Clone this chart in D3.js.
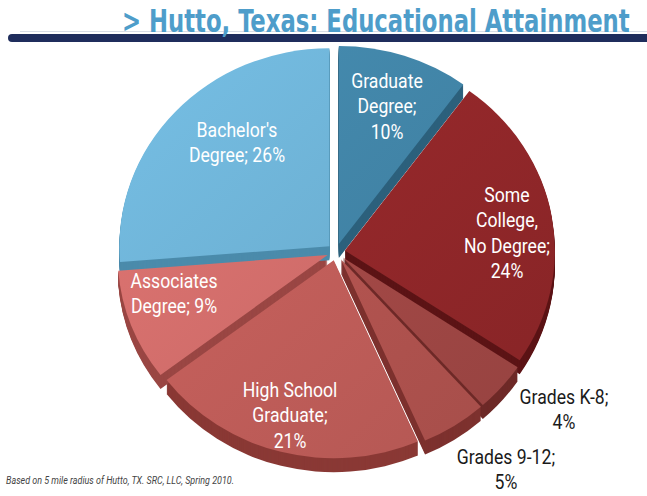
<!DOCTYPE html>
<html>
<head>
<meta charset="utf-8">
<script src="https://cdn.jsdelivr.net/npm/d3@7"></script>
<style>
  body { margin: 0; background: #fff; }
  svg { display: block; }
  .lbl { font-family: "Roboto", "Liberation Sans", sans-serif; }
  .ttl { font-family: "Liberation Sans Narrow", "DejaVu Sans Condensed", "Roboto", sans-serif; }
</style>
</head>
<body>
<svg id="chart" width="647" height="496"></svg>
<script>
// Hutto, Texas educational attainment (percent)
const categories = ["Graduate Degree", "Some College, No Degree", "Grades K-8", "Grades 9-12",
  "High School Graduate", "Associates Degree", "Bachelor's Degree"];
const values = [10, 24, 4, 5, 21, 9, 26];
const labelLines = [
  ["Graduate", "Degree;", "10%"],
  ["Some", "College,", "No Degree;", "24%"],
  ["Grades K-8;", "4%"],
  ["Grades 9-12;", "5%"],
  ["High School", "Graduate;", "21%"],
  ["Associates", "Degree; 9%"],
  ["Bachelor's", "Degree; 26%"]
];

const faceColors = ["#3f80a1", "#8d2628", "#9d4643", "#ad514d", "#bb5b57", "#cb6a67", "#6aacce"];
const sideColors = ["#2c607c", "#5c1416", "#6e2a28", "#7d312e", "#8a3935", "#9a4744", "#4b8bab"];

const svg = d3.select('#chart');
const defs = svg.append('defs');

// header bar + title
svg.append('line').attr('x1', 20).attr('x2', 647).attr('y1', 31.5).attr('y2', 31.5)
  .attr('stroke', '#d8dde6').attr('stroke-width', 1);
svg.append('line').attr('x1', 12).attr('x2', 660).attr('y1', 38).attr('y2', 38)
  .attr('stroke', '#1f2d5c').attr('stroke-width', 8).attr('stroke-linecap', 'round');
const title = svg.append('text').attr('class', 'ttl')
  .attr('font-size', 32).attr('font-weight', 'bold').attr('fill', '#4e9dca')
  .text('> Hutto, Texas: Educational Attainment');
// squeeze the title horizontally to its width in the original
const titleW = title.node().getComputedTextLength();
title.attr('transform', `translate(122,32) scale(${508 / titleW},1)`);

// pie geometry
const cx = 336, cy = 252, rx = 210, ry = 198, depth = 14, explode = 9;
const pie = d3.pie().sort(null).value(d => d);
const arcs = pie(values);
const arc = d3.arc().innerRadius(0).outerRadius(rx);

function offset(d) {
  const a = (d.startAngle + d.endAngle) / 2;
  return [Math.sin(a) * explode, -Math.cos(a) * explode];
}

// soft shading on faces
faceColors.forEach((c, i) => {
  const g = defs.append('linearGradient').attr('id', 'grad' + i)
    .attr('gradientUnits', 'userSpaceOnUse')
    .attr('x1', -rx).attr('y1', -rx).attr('x2', rx).attr('y2', rx);
  g.append('stop').attr('offset', '0%').attr('stop-color', d3.color(c).brighter(0.3));
  g.append('stop').attr('offset', '100%').attr('stop-color', d3.color(c).darker(0.15));
});

const pieG = svg.append('g').attr('transform', `translate(${cx},${cy}) scale(1,${ry / rx})`);

// extruded sides
const sideG = pieG.append('g');
arcs.forEach((d, i) => {
  const [ox, oy] = offset(d);
  for (let k = depth; k > 0; k -= 1) {
    sideG.append('path')
      .attr('d', arc(d))
      .attr('transform', `translate(${ox},${oy + k * rx / ry})`)
      .attr('fill', sideColors[i]);
  }
});

// top faces
pieG.append('g').selectAll('path').data(arcs).join('path')
  .attr('d', arc)
  .attr('transform', d => { const [ox, oy] = offset(d); return `translate(${ox},${oy})`; })
  .attr('fill', (d, i) => `url(#grad${i})`);

// labels (condensed look via horizontal scale)
const labelPos = [
  [387, 88], [507, 202], [564, 404], [506, 464], [290, 397], [174, 288], [237, 137]
];
const labelFill = ['#fff', '#fff', '#1a1a1a', '#1a1a1a', '#fff', '#fff', '#fff'];
labelLines.forEach((lines, i) => {
  const t = svg.append('text').attr('class', 'lbl')
    .attr('transform', `translate(${labelPos[i][0]},${labelPos[i][1]}) scale(0.84,1)`)
    .attr('font-size', 21).attr('text-anchor', 'middle').attr('fill', labelFill[i]);
  lines.forEach((s, j) => {
    t.append('tspan').attr('x', 0).attr('y', j * 25.5).text(s);
  });
});

// footnote
svg.append('text').attr('class', 'lbl')
  .attr('x', 6).attr('y', 484).attr('font-size', 10).attr('font-style', 'italic').attr('fill', '#444')
  .attr('textLength', 228).attr('lengthAdjust', 'spacingAndGlyphs')
  .text('Based on 5 mile radius of Hutto, TX. SRC, LLC, Spring 2010.');
</script>
</body>
</html>
